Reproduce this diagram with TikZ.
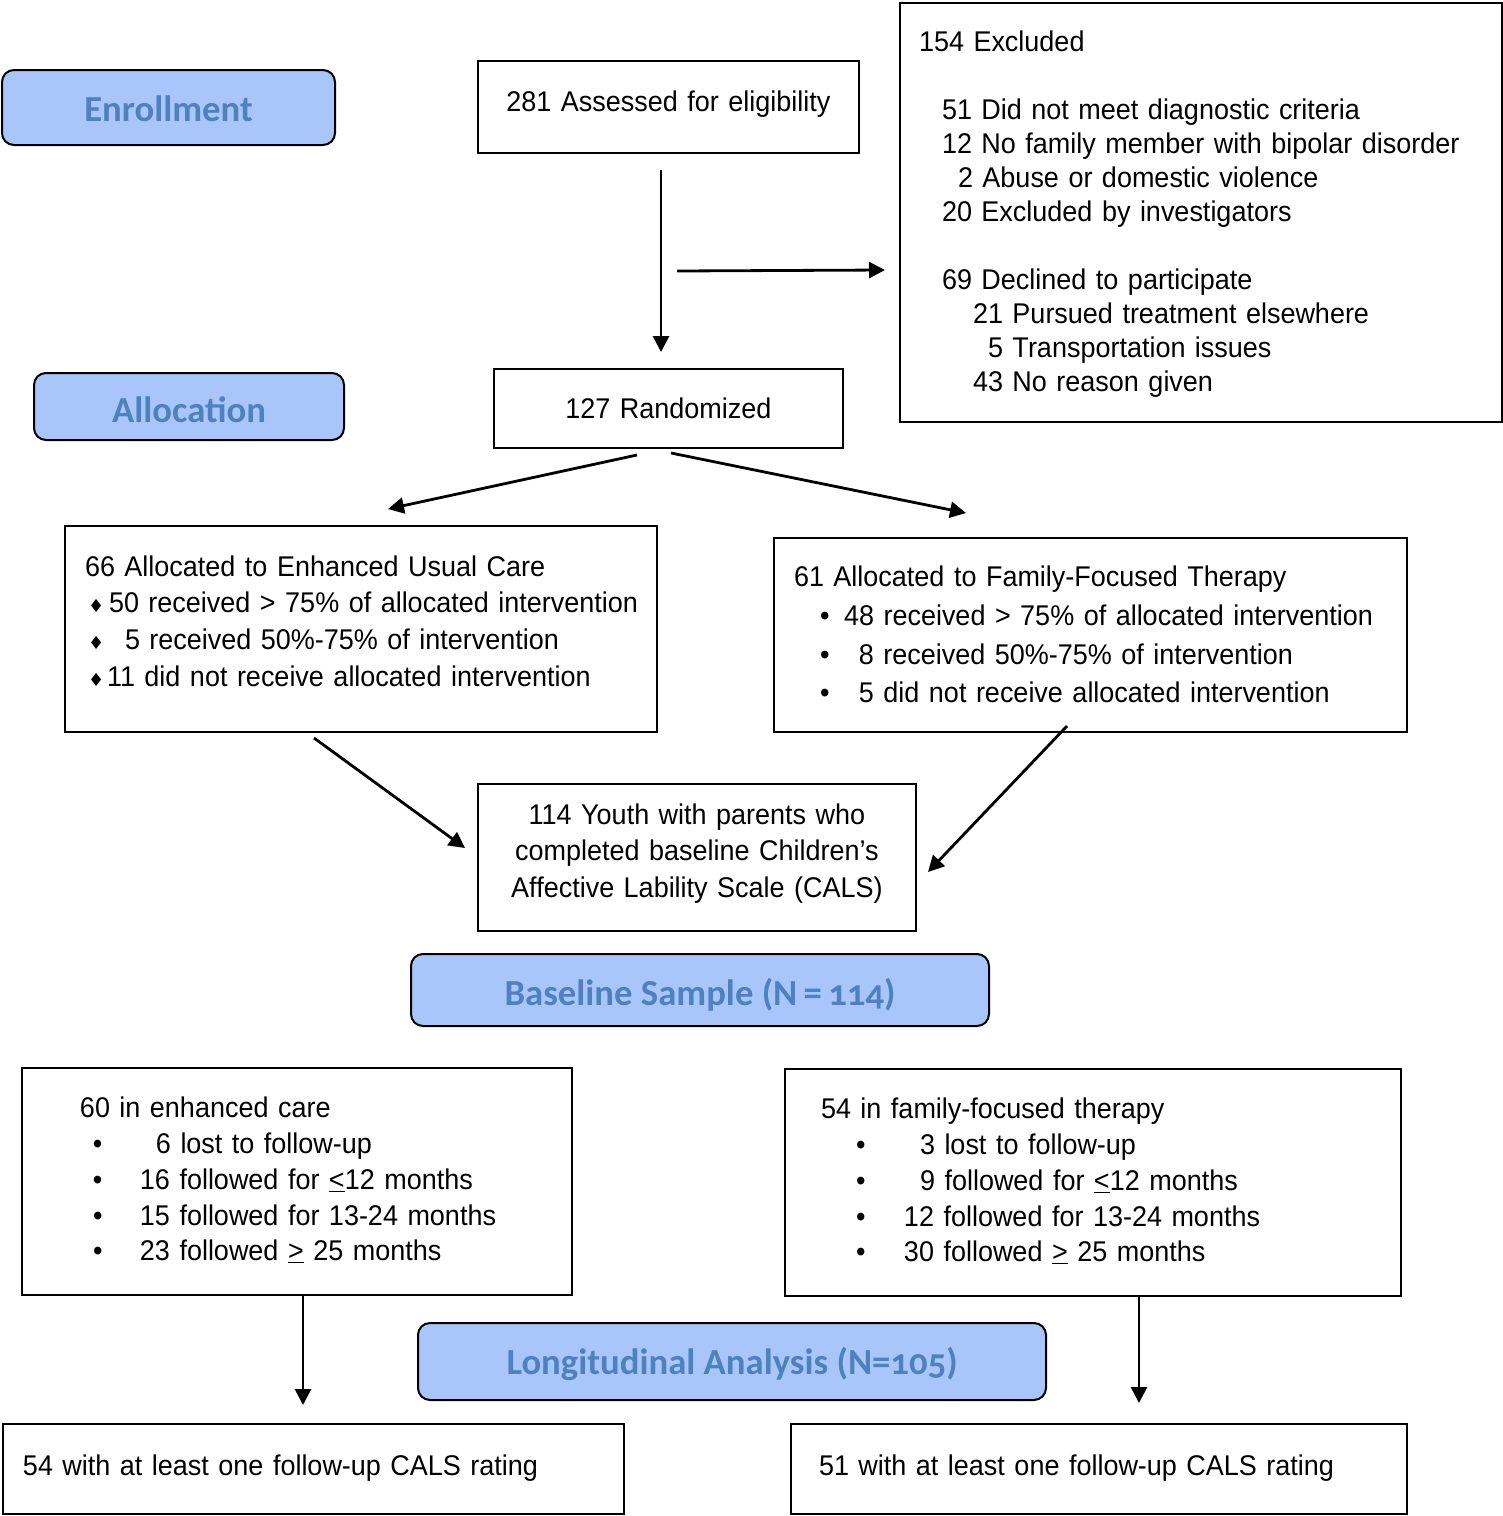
\documentclass[tikz,border=0pt]{standalone}
\usepackage{fontspec}
\setmainfont{Liberation Sans}[FakeStretch=0.947,WordSpace=0.93]
\newfontfamily\labfont{Carlito}[Numbers=OldStyle]
\newfontfamily\djfont{DejaVu Sans}
\usetikzlibrary{arrows.meta}
\definecolor{labfill}{RGB}{168,198,250}
\definecolor{labtext}{RGB}{79,129,189}
\newcommand\bx[1]{\fontsize{28.5}{#1}\selectfont}
\newcommand\fst[1]{\rule{0pt}{#1pt}}
\newcommand\lst[1]{\rule[-#1pt]{0pt}{#1pt}}
\newcommand\ind[1]{\hspace*{#1pt}}
\newcommand\dia{{\djfont\fontsize{18}{18}\selectfont ♦}}
\begin{document}
\begin{tikzpicture}[x=1pt,y=-1pt,
  frame/.style={draw, line width=2pt, inner sep=0pt, anchor=north west, align=left},
  lab/.style={draw, line width=2pt, fill=labfill, text=labtext, rounded corners=12pt, inner sep=0pt,
    font=\labfont\bfseries\fontsize{36.7}{40}\selectfont},
  arr/.style={line width=2.8pt, -{Triangle[length=16pt,width=16pt]}}]
\useasboundingbox (0,0) rectangle (1503,1516);

% labels
\node[lab, minimum width=333pt, minimum height=75pt, text height=28pt, text depth=0.4pt] (enr) at (168.5,107.5) {Enrollment};
\node[lab, minimum width=310pt, minimum height=67pt, text height=33pt, text depth=0.4pt] (alloc) at (189,406.5) {Allocation};
\node[lab, minimum width=578pt, minimum height=72pt, text height=32pt, text depth=0.4pt] (base) at (700,990) {Baseline Sample (N\hspace{-2pt} =\hspace{-2pt} 114)};
\node[lab, minimum width=628pt, minimum height=77pt, text height=27pt, text depth=0.4pt] (long) at (732,1361.5) {Longitudinal Analysis (N=105)};

% boxes
\node[frame, align=center, minimum width=381pt, minimum height=92pt, text width=381pt, font=\bx{34}] (assess) at (477,60)
  {\rule[-12.4pt]{0pt}{32.4pt}281 Assessed for eligibility};

\node[frame, minimum width=602pt, minimum height=419pt, text width=602pt, font=\bx{34}] (excl) at (899,2)
  {\fst{24.6}\ind{19}154 Excluded\\[34pt]
   \ind{42}51 Did not meet diagnostic criteria\\
   \ind{42}12 No family member with bipolar disorder\\
   \ind{58}2 Abuse or domestic violence\\
   \ind{42}20 Excluded by investigators\\[34pt]
   \ind{42}69 Declined to participate\\
   \ind{73}21 Pursued treatment elsewhere\\
   \ind{88}5 Transportation issues\\
   \ind{73}43 No reason given\lst{6}};

\node[frame, align=center, minimum width=349pt, minimum height=79pt, text width=349pt, font=\bx{34}] (rand) at (493,368)
  {\rule[-6pt]{0pt}{32.6pt}127 Randomized};

\node[frame, minimum width=592pt, minimum height=206pt, text width=592pt, font=\bx{36.7}] (euc) at (64,525)
  {\fst{20}\ind{20}66 Allocated to Enhanced Usual Care\\
   \ind{23}\makebox[21pt][l]{\dia}50 received > 75\% of allocated intervention\\
   \ind{23}\makebox[37pt][l]{\dia}5 received 50\%-75\% of intervention\\
   \ind{23}\makebox[19pt][l]{\dia}11 did not receive allocated intervention\lst{16.3}};

\node[frame, minimum width=633pt, minimum height=194pt, text width=633pt, font=\bx{38.7}] (fft) at (773,537)
  {\fst{25.7}\ind{20}61 Allocated to Family-Focused Therapy\\
   \ind{46}\makebox[24pt][l]{•}48 received > 75\% of allocated intervention\\
   \ind{46}\makebox[39pt][l]{•}8 received 50\%-75\% of intervention\\
   \ind{46}\makebox[39pt][l]{•}5 did not receive allocated intervention\lst{6}};

\node[frame, align=center, minimum width=438pt, minimum height=147pt, text width=438pt, font=\bx{36.5}] (youth) at (477,783)
  {\fst{20}114 Youth with parents who\\
   completed baseline Children’s\\
   Affective Lability Scale (CALS)\lst{14.4}};

\node[frame, minimum width=550pt, minimum height=227pt, text width=550pt, font=\bx{35.75}] (ec) at (21,1067)
  {\fst{21.6}\ind{58}60 in enhanced care\\
   \ind{71}\makebox[63pt][l]{•}6 lost to follow-up\\
   \ind{71}\makebox[47pt][l]{•}16 followed for \underline{<}12 months\\
   \ind{71}\makebox[47pt][l]{•}15 followed for 13-24 months\\
   \ind{71}\makebox[47pt][l]{•}23 followed \underline{>} 25 months\lst{6}};

\node[frame, minimum width=616pt, minimum height=227pt, text width=616pt, font=\bx{35.75}] (ff) at (784,1068)
  {\fst{21.6}\ind{36}54 in family-focused therapy\\
   \ind{71}\makebox[64pt][l]{•}3 lost to follow-up\\
   \ind{71}\makebox[64pt][l]{•}9 followed for \underline{<}12 months\\
   \ind{71}\makebox[48pt][l]{•}12 followed for 13-24 months\\
   \ind{71}\makebox[48pt][l]{•}30 followed \underline{>} 25 months\lst{6}};

\node[frame, minimum width=621pt, minimum height=90pt, text width=621pt, font=\bx{34}] (ecout) at (2,1423)
  {\rule[-8.4pt]{0pt}{28.4pt}\ind{20}54 with at least one follow-up CALS rating};
\node[frame, minimum width=616pt, minimum height=90pt, text width=616pt, font=\bx{34}] (ffout) at (790,1423)
  {\rule[-8.4pt]{0pt}{28.4pt}\ind{28}51 with at least one follow-up CALS rating};

% arrows
\coordinate (a1s) at (661,170);  \coordinate (a1e) at (661,352);
\coordinate (a2s) at (677,271);  \coordinate (a2e) at (885,270);
\coordinate (a3s) at (637,455);  \coordinate (a3e) at (388,509);
\coordinate (a4s) at (671,453);  \coordinate (a4e) at (966,513);
\coordinate (a5s) at (314,738);  \coordinate (a5e) at (465,848);
\coordinate (a6s) at (1067,726); \coordinate (a6e) at (928,872);
\coordinate (a7s) at (303,1294); \coordinate (a7e) at (303,1405);
\coordinate (a8s) at (1139,1296);\coordinate (a8e) at (1139,1403);
\draw[arr] (a1s) -- (a1e);
\draw[arr] (a2s) -- (a2e);
\draw[arr] (a3s) -- (a3e);
\draw[arr] (a4s) -- (a4e);
\draw[arr] (a5s) -- (a5e);
\draw[arr] (a6s) -- (a6e);
\draw[arr] (a7s) -- (a7e);
\draw[arr] (a8s) -- (a8e);
\end{tikzpicture}
\end{document}
